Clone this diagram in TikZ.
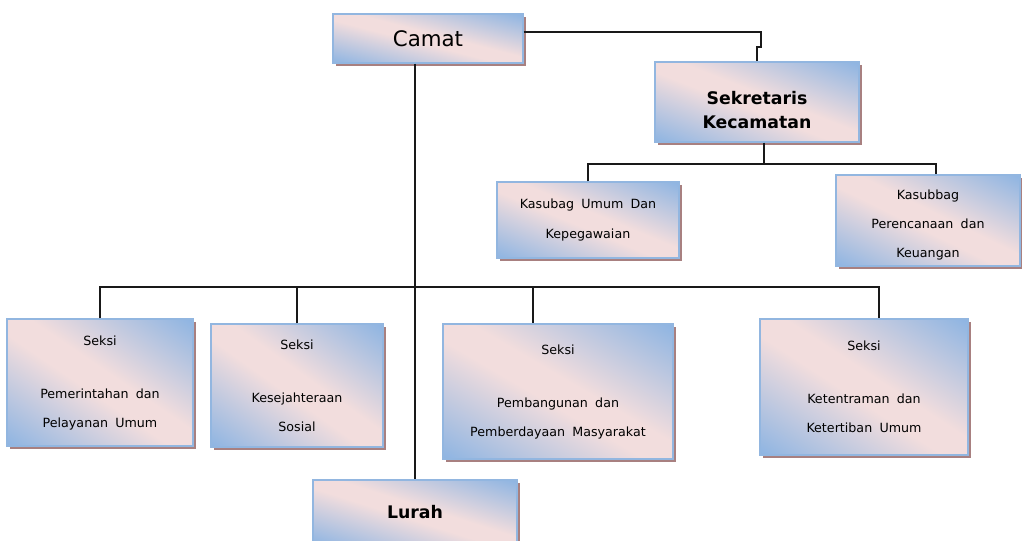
\documentclass[tikz,border=0pt]{standalone}
\usepackage{fontspec}
\setmainfont{DejaVu Sans}[WordSpace=1.8]
\usetikzlibrary{shadows}
\definecolor{bxborder}{RGB}{146,182,224}
\definecolor{shadowc}{RGB}{168,128,128}
\definecolor{linec}{RGB}{25,25,25}
\pgfdeclarefunctionalshading{boxshade}{\pgfpoint{0bp}{0bp}}{\pgfpoint{100bp}{100bp}}{}{
  add 50 sub 100 div
  0.5 sub abs 2 mul
  0.12 sub 0.88 div dup 0 lt {pop 0} if dup 1 gt {pop 1} if
  dup -0.396 mul 0.949 add exch
  dup -0.161 mul 0.867 add exch
  0.019 mul 0.867 add
}
\tikzset{
  box/.style={shade, shading=boxshade, draw=bxborder, line width=0.8pt,
    drop shadow={shadow xshift=2.3pt, shadow yshift=-2.3pt, fill=shadowc, opacity=1},
    align=center, inner sep=0pt},
  small/.style={font=\fontsize{9.5}{21.75}\selectfont},
  conn/.style={draw=linec, line width=1.1pt},
}
\begin{document}
\begin{tikzpicture}[x=0.75pt, y=-0.75pt]
\useasboundingbox (0,0) rectangle (1022,540);
\clip (0,0) rectangle (1022,540);
% boxes
\node[box, minimum width=142.5pt, minimum height=36.75pt, font=\fontsize{16}{19}\selectfont] (camat) at (428,38.5) {Camat};
\node[box, minimum width=153pt, minimum height=60pt,
  label={[name=sekt, yshift=-6pt, align=center, font=\bfseries\fontsize{13}{18}\selectfont]center:Sekretaris\\Kecamatan}] (sek) at (757,102) {};
\node[box, small, minimum width=136.5pt, minimum height=57pt] (kum) at (588,220) {Kasubag Umum Dan\\Kepegawaian};
\node[box, minimum width=138pt, minimum height=68.25pt,
  label={[name=kpert, yshift=-3.5pt, align=center, small]center:Kasubbag\\Perencanaan dan\\Keuangan}] (kper) at (928,220.5) {};
\node[box, small, minimum width=139.5pt, minimum height=95.25pt] (s1) at (100,382.5) {Seksi\\[18pt]Pemerintahan dan\\Pelayanan Umum};
\node[box, small, minimum width=129pt, minimum height=92.25pt] (s2) at (297,385.5) {Seksi\\[18pt]Kesejahteraan\\Sosial};
\node[box, small, minimum width=172.5pt, minimum height=101.25pt] (s3) at (558,391.5) {Seksi\\[18pt]Pembangunan dan\\Pemberdayaan Masyarakat};
\node[box, small, minimum width=156pt, minimum height=102pt] (s4) at (864,387) {Seksi\\[18pt]Ketentraman dan\\Ketertiban Umum};
\node[box, minimum width=153pt, minimum height=48.75pt, font=\bfseries\fontsize{13}{16}\selectfont] (lurah) at (415,512.5) {Lurah};
% connector helper points
\coordinate (j1) at (761,47);
\coordinate (sb) at (764,164);
\coordinate (b1) at (936,164);
\coordinate (d3) at (533,287);
\coordinate (d4) at (879,287);
% connectors
\draw[conn] ([yshift=4.9pt]camat.east) -| (j1) -| (sek.north);
\draw[conn] (camat.south -| lurah.north) -- (lurah.north);
\draw[conn] (sek.south -| sb) -- (sb);
\draw[conn] (kum.north) |- (b1) -- (b1 |- kper.north);
\draw[conn] (s1.north) |- (d4) -- (d4 |- s4.north);
\draw[conn] (s2.north) -- (s2.north |- d4);
\draw[conn] (d3) -- (d3 |- s3.north);
\end{tikzpicture}
\end{document}
